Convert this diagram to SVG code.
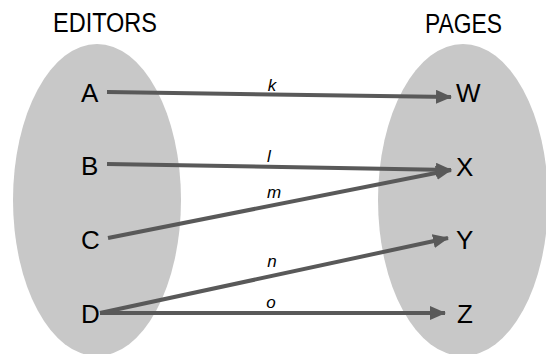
<svg xmlns="http://www.w3.org/2000/svg" width="546" height="354" viewBox="0 0 546 354">
  <style>
    .set { fill: #c8c8c8; }
    .title { font-family: "Liberation Sans", Arial, sans-serif; font-size: 27px; fill: #000; }
    .elem { font-family: "Liberation Sans", Arial, sans-serif; font-size: 26px; fill: #000; }
    .lbl { font-family: "Liberation Sans", Arial, sans-serif; font-size: 17px; font-style: italic; fill: #000; text-anchor: middle; }
    .edge { stroke: #595959; stroke-width: 4; fill: none; marker-end: url(#head); }
  </style>
  <defs>
    <marker id="head" markerUnits="userSpaceOnUse" markerWidth="16" markerHeight="14" refX="15" refY="7" orient="auto">
      <path d="M0,0 L16,7 L0,14 Z" fill="#595959"/>
    </marker>
  </defs>
  <rect width="546" height="354" fill="#fff"/>

  <!-- set outlines -->
  <g id="editors">
    <ellipse class="set" cx="97" cy="200" rx="84" ry="156"/>
    <text class="title" x="53" y="32" textLength="104" lengthAdjust="spacingAndGlyphs">EDITORS</text>
  </g>
  <g id="pages">
    <ellipse class="set" cx="463" cy="200" rx="85" ry="156"/>
    <text class="title" x="425" y="33" textLength="77" lengthAdjust="spacingAndGlyphs">PAGES</text>
  </g>

  <!-- editor elements -->
  <g id="A"><text class="elem" x="81" y="102">A</text></g>
  <g id="B"><text class="elem" x="81" y="175">B</text></g>
  <g id="C"><text class="elem" x="81" y="249">C</text></g>
  <g id="D"><text class="elem" x="81" y="323">D</text></g>

  <!-- page elements -->
  <g id="W"><text class="elem" x="456" y="102">W</text></g>
  <g id="X"><text class="elem" x="456" y="176">X</text></g>
  <g id="Y"><text class="elem" x="456" y="249">Y</text></g>
  <g id="Z"><text class="elem" x="457" y="323">Z</text></g>

  <!-- edit relations -->
  <g id="connectors">
    <line class="edge" x1="107" y1="92" x2="451" y2="97"/>
    <line class="edge" x1="107" y1="164" x2="451" y2="170"/>
    <line class="edge" x1="108" y1="238" x2="451" y2="170"/>
    <line class="edge" x1="100" y1="313" x2="448" y2="238"/>
    <line class="edge" x1="100" y1="313" x2="445" y2="313"/>
    <text class="lbl" x="272" y="91">k</text>
    <text class="lbl" x="269" y="162">l</text>
    <text class="lbl" x="274" y="198">m</text>
    <text class="lbl" x="272" y="267">n</text>
    <text class="lbl" x="271" y="308">o</text>
  </g>
</svg>
